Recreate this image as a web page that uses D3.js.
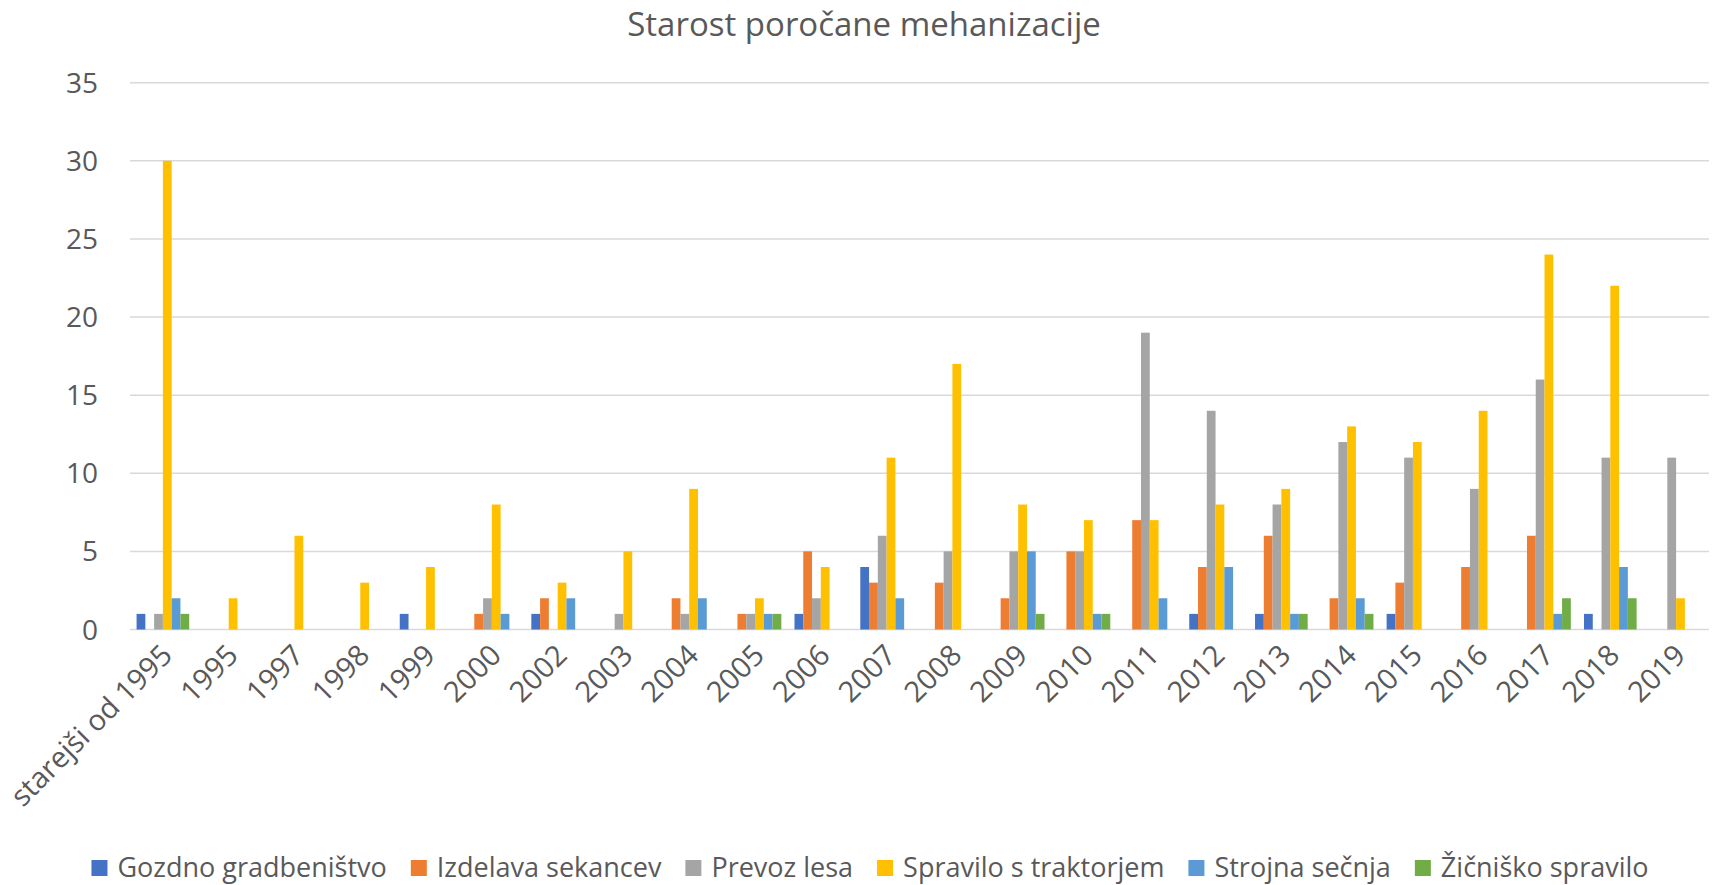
<!DOCTYPE html>
<html>
<head>
<meta charset="utf-8">
<script src="https://cdn.jsdelivr.net/npm/d3@7"></script>
<style>
  body { margin: 0; background: #fff; }
  svg { display: block; }
  text { font-family: "Open Sans", sans-serif; fill: #595959; }
</style>
</head>
<body>
<svg id="chart"></svg>
<script>
// age of reported machinery, count per year of manufacture
var categories = ['starejši od 1995', '1995', '1997', '1998', '1999', '2000', '2002', '2003', '2004', '2005', '2006',
  '2007', '2008', '2009', '2010', '2011', '2012', '2013', '2014', '2015', '2016', '2017', '2018', '2019']

var seriesNames = ['Gozdno gradbeništvo', 'Izdelava sekancev', 'Prevoz lesa', 'Spravilo s traktorjem', 'Strojna sečnja', 'Žičniško spravilo']
var seriesColors = ['#4472C4', '#ED7D31', '#A5A5A5', '#FFC000', '#5B9BD5', '#70AD47']

var gozdno    = [1, 0, 0, 0, 1, 0, 1, 0, 0, 0, 1, 4, 0, 0, 0, 0, 1, 1, 0, 1, 0, 0, 1, 0]
var izdelava  = [0, 0, 0, 0, 0, 1, 2, 0, 2, 1, 5, 3, 3, 2, 5, 7, 4, 6, 2, 3, 4, 6, 0, 0]
var prevoz    = [1, 0, 0, 0, 0, 2, 0, 1, 1, 1, 2, 6, 5, 5, 5, 19, 14, 8, 12, 11, 9, 16, 11, 11]
var spravilo  = [30, 2, 6, 3, 4, 8, 3, 5, 9, 2, 4, 11, 17, 8, 7, 7, 8, 9, 13, 12, 14, 24, 22, 2]
var strojna   = [2, 0, 0, 0, 0, 1, 2, 0, 2, 1, 0, 2, 0, 5, 1, 2, 4, 1, 2, 0, 0, 1, 4, 0]
var zicnisko  = [1, 0, 0, 0, 0, 0, 0, 0, 0, 1, 0, 0, 0, 1, 1, 0, 0, 1, 1, 0, 0, 2, 2, 0]

var yTicks = [0, 5, 10, 15, 20, 25, 30, 35]

var seriesValues = [gozdno, izdelava, prevoz, spravilo, strojna, zicnisko]

var width = 1723
var height = 885
var plotLeft = 130
var plotRight = 1709
var plotTop = 82.7
var plotBottom = 629.5

var svg = d3.select('#chart')
  .attr('width', width)
  .attr('height', height)

// title
svg.append('text')
  .attr('x', 864)
  .attr('y', 36)
  .attr('text-anchor', 'middle')
  .style('font-size', '33px')
  .text('Starost poročane mehanizacije')

var xScale = d3.scaleBand()
  .domain(categories)
  .range([plotLeft, plotRight])

// bar width: gap of 150% like excel default
var barW = xScale.bandwidth() / 7.5
var xInner = d3.scaleBand()
  .domain(seriesNames)
  .range([barW * 0.75, xScale.bandwidth() - barW * 0.75])

var yScale = d3.scaleLinear()
  .domain([0, 35])
  .range([plotBottom, plotTop])

// gridlines
svg.append('g')
  .selectAll('line')
  .data(yTicks)
  .enter()
  .append('line')
    .attr('x1', plotLeft)
    .attr('x2', plotRight)
    .attr('y1', d => yScale(d))
    .attr('y2', d => yScale(d))
    .attr('stroke', '#D9D9D9')
    .attr('stroke-width', 1.5)

// y labels
svg.append('g')
  .selectAll('text')
  .data(yTicks)
  .enter()
  .append('text')
    .attr('x', 98)
    .attr('y', d => yScale(d) + 10)
    .attr('text-anchor', 'end')
    .style('font-size', '28px')
    .text(d => d)

// bars
var groups = svg.append('g')
  .selectAll('g')
  .data(seriesNames)
  .enter()
  .append('g')
    .attr('fill', (d, i) => seriesColors[i])

groups.selectAll('rect')
  .data((s, si) => seriesValues[si].map((v, ci) => ({ s: s, cat: categories[ci], v: v })))
  .enter()
  .append('rect')
    .attr('x', d => xScale(d.cat) + xInner(d.s))
    .attr('y', d => yScale(d.v))
    .attr('width', xInner.bandwidth())
    .attr('height', d => yScale(0) - yScale(d.v))

// x labels, rotated
svg.append('g')
  .selectAll('text')
  .data(categories)
  .enter()
  .append('text')
    .attr('transform', d => 'translate(' + (xScale(d) + xScale.bandwidth() / 2 + 11) + ',' + 657 + ') rotate(-45)')
    .attr('text-anchor', 'end')
    .style('font-size', '29px')
    .text(d => d)

// legend
var legend = svg.append('g')
var lx = 0
seriesNames.forEach(function (name, i) {
  var item = legend.append('g').attr('transform', 'translate(' + lx + ',0)')
  item.append('rect')
    .attr('x', 0)
    .attr('y', -17)
    .attr('width', 16)
    .attr('height', 16)
    .attr('fill', seriesColors[i])
  var t = item.append('text')
    .attr('x', 26)
    .attr('y', 0)
    .style('font-size', '27px')
    .text(name)
  lx += 26 + t.node().getComputedTextLength() + 24
})
lx -= 24
legend.attr('transform', 'translate(' + (870 - lx / 2) + ',877)')
</script>
</body>
</html>
